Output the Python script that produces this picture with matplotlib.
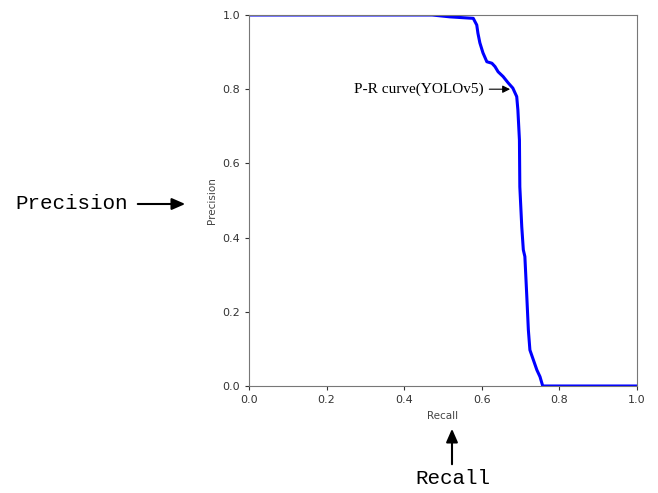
import matplotlib
matplotlib.use("Agg")
import matplotlib.pyplot as plt

# P-R curve points
recall = [0.0, 0.30, 0.472, 0.518, 0.578, 0.587, 0.590, 0.595, 0.603, 0.613,
          0.626, 0.634, 0.642, 0.655, 0.668, 0.680, 0.690, 0.693, 0.697, 0.698,
          0.703, 0.707, 0.711, 0.716, 0.720, 0.724, 0.733, 0.742, 0.750, 0.757,
          0.80, 1.0]
precision = [1.0, 1.0, 1.0, 0.995, 0.991, 0.973, 0.951, 0.925, 0.898, 0.874,
             0.870, 0.861, 0.847, 0.834, 0.817, 0.803, 0.780, 0.744, 0.663, 0.537,
             0.429, 0.367, 0.349, 0.241, 0.151, 0.097, 0.070, 0.043, 0.025, 0.0,
             0.0, 0.0]

ticks = [0.0, 0.2, 0.4, 0.6, 0.8, 1.0]
W, H = 658, 493


def fx(px):
    return px / W


def fy(py):
    return 1 - py / H


fig = plt.figure(figsize=(6.58, 4.93), dpi=100)
ax = fig.add_axes([fx(249), fy(386), fx(637) - fx(249), fy(15) - fy(386)])

ax.plot(recall, precision, color="#0000ff", linewidth=2.2)
ax.set_xlim(0, 1)
ax.set_ylim(0, 1)
ax.set_xticks(ticks)
ax.set_yticks(ticks)
ax.tick_params(labelsize=8, colors="#333333", length=3)
for s in ax.spines.values():
    s.set_color("#777777")
ax.set_xlabel("Recall", fontsize=7.5, color="#444444")
ax.set_ylabel("Precision", fontsize=7.5, color="#444444")

ax.annotate("P-R curve(YOLOv5)", xy=(0.680, 0.80), xytext=(0.605, 0.80),
            ha="right", va="center", fontsize=11, family="Liberation Serif",
            arrowprops=dict(arrowstyle="-|>", color="black", lw=0.8))

# outer labels with arrows
fig.text(fx(15), fy(204), "Precision", ha="left", va="center",
         fontsize=15, family="Liberation Mono")
fig.add_artist(plt.Annotation("", xy=(fx(188), fy(204)), xytext=(fx(135), fy(204)),
                              xycoords="figure fraction", textcoords="figure fraction",
                              arrowprops=dict(arrowstyle="-|>,head_length=0.8,head_width=0.35",
                                              color="black", lw=1.5)))
fig.text(fx(453), fy(479), "Recall", ha="center", va="center",
         fontsize=15, family="Liberation Mono")
fig.add_artist(plt.Annotation("", xy=(fx(452), fy(426)), xytext=(fx(452), fy(467)),
                              xycoords="figure fraction", textcoords="figure fraction",
                              arrowprops=dict(arrowstyle="-|>,head_length=0.8,head_width=0.35",
                                              color="black", lw=1.5)))

fig.savefig("out.png", dpi=100)
